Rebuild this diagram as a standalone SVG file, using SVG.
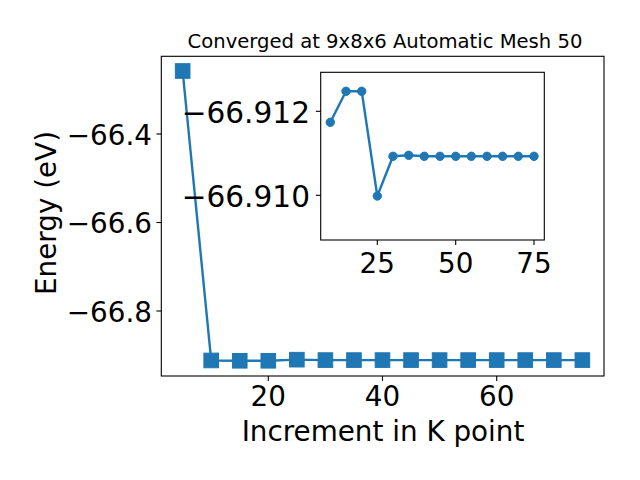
<svg xmlns="http://www.w3.org/2000/svg" width="640" height="480" viewBox="0 0 640 480">
<style>
text{font-family:"DejaVu Sans","Liberation Sans",sans-serif;fill:#000}
.tk{font-size:27.8px}
.tki{font-size:29.6px}
.ttl{font-size:19.6px}
.spine{fill:none;stroke:#000;stroke-width:1.1}
.tick{stroke:#000;stroke-width:1.1}
.line{fill:none;stroke:#1f77b4;stroke-width:2.4;stroke-linejoin:round;stroke-linecap:square}
.mk{fill:#1f77b4;stroke:#1f77b4;stroke-width:1}
</style>
<defs>
<rect id="sq" x="-7.3" y="-7.3" width="14.6" height="14.6" class="mk"/>
<circle id="dot" r="4.2" class="mk"/>
</defs>
<rect width="640" height="480" fill="#fff"/>
<g id="main-axes">
<rect x="161.3" y="56.3" width="442.7" height="319.7" fill="#fff"/>
<g id="connectors">
<polyline class="line" points="182.65,71 211.2,360.44 239.75,360.77 268.3,360.77 296.85,359.67 325.4,360.09 353.95,360.09 382.5,360.09 411.05,360.09 439.6,360.09 468.15,360.09 496.7,360.09 525.25,360.09 553.8,360.09 582.35,360.09"/>
</g>
<g id="main-markers">
<use href="#sq" x="182.65" y="71"/>
<use href="#sq" x="211.2" y="360.44"/>
<use href="#sq" x="239.75" y="360.77"/>
<use href="#sq" x="268.3" y="360.77"/>
<use href="#sq" x="296.85" y="359.67"/>
<use href="#sq" x="325.4" y="360.09"/>
<use href="#sq" x="353.95" y="360.09"/>
<use href="#sq" x="382.5" y="360.09"/>
<use href="#sq" x="411.05" y="360.09"/>
<use href="#sq" x="439.6" y="360.09"/>
<use href="#sq" x="468.15" y="360.09"/>
<use href="#sq" x="496.7" y="360.09"/>
<use href="#sq" x="525.25" y="360.09"/>
<use href="#sq" x="553.8" y="360.09"/>
<use href="#sq" x="582.35" y="360.09"/>
</g>
<rect class="spine" x="161.3" y="56.3" width="442.7" height="319.7"/>
<g id="main-ticks">
<line class="tick" x1="156.4" y1="134" x2="161.3" y2="134"/>
<line class="tick" x1="156.4" y1="222.5" x2="161.3" y2="222.5"/>
<line class="tick" x1="156.4" y1="311" x2="161.3" y2="311"/>
<line class="tick" x1="268.3" y1="376" x2="268.3" y2="380.9"/>
<line class="tick" x1="382.5" y1="376" x2="382.5" y2="380.9"/>
<line class="tick" x1="496.7" y1="376" x2="496.7" y2="380.9"/>
</g>
<g id="main-ticklabels" class="tk">
<text x="152" y="144.5" text-anchor="end">−66.4</text>
<text x="152" y="233" text-anchor="end">−66.6</text>
<text x="152" y="321.5" text-anchor="end">−66.8</text>
<text x="268.3" y="406" text-anchor="middle">20</text>
<text x="382.5" y="406" text-anchor="middle">40</text>
<text x="496.7" y="406" text-anchor="middle">60</text>
</g>
<text id="title" class="ttl" x="385" y="48" text-anchor="middle">Converged at 9x8x6 Automatic Mesh 50</text>
<text id="xlabel" class="tk" x="383" y="440.7" text-anchor="middle">Increment in K point</text>
<text id="ylabel" class="tk" transform="translate(55.5,213) rotate(-90)" text-anchor="middle">Energy (eV)</text>
</g>
<g id="inset-axes">
<rect x="320.7" y="72.3" width="223.6" height="167.7" fill="#fff"/>
<g id="inset-connector">
<polyline class="line" points="330.3,122.3 346,91.3 361.7,91.3 377.3,196 393,156.3 408.7,155.3 424.3,156.3 440,156.3 455.7,156.3 471.3,156.3 487,156.3 502.6,156.3 518.3,156.3 534,156.3"/>
</g>
<g id="inset-markers">
<use href="#dot" x="330.3" y="122.3"/>
<use href="#dot" x="346" y="91.3"/>
<use href="#dot" x="361.7" y="91.3"/>
<use href="#dot" x="377.3" y="196"/>
<use href="#dot" x="393" y="156.3"/>
<use href="#dot" x="408.7" y="155.3"/>
<use href="#dot" x="424.3" y="156.3"/>
<use href="#dot" x="440" y="156.3"/>
<use href="#dot" x="455.7" y="156.3"/>
<use href="#dot" x="471.3" y="156.3"/>
<use href="#dot" x="487" y="156.3"/>
<use href="#dot" x="502.6" y="156.3"/>
<use href="#dot" x="518.3" y="156.3"/>
<use href="#dot" x="534" y="156.3"/>
</g>
<rect class="spine" x="320.7" y="72.3" width="223.6" height="167.7"/>
<g id="inset-ticks">
<line class="tick" x1="315.8" y1="111.3" x2="320.7" y2="111.3"/>
<line class="tick" x1="315.8" y1="195.3" x2="320.7" y2="195.3"/>
<line class="tick" x1="377.3" y1="240" x2="377.3" y2="244.9"/>
<line class="tick" x1="455.7" y1="240" x2="455.7" y2="244.9"/>
<line class="tick" x1="534" y1="240" x2="534" y2="244.9"/>
</g>
<g id="inset-ticklabels">
<text class="tki" x="310" y="122.5" text-anchor="end">−66.912</text>
<text class="tki" x="310" y="206.5" text-anchor="end">−66.910</text>
<text class="tk" x="377.3" y="272.7" text-anchor="middle">25</text>
<text class="tk" x="455.7" y="272.7" text-anchor="middle">50</text>
<text class="tk" x="534" y="272.7" text-anchor="middle">75</text>
</g>
</g>
</svg>
